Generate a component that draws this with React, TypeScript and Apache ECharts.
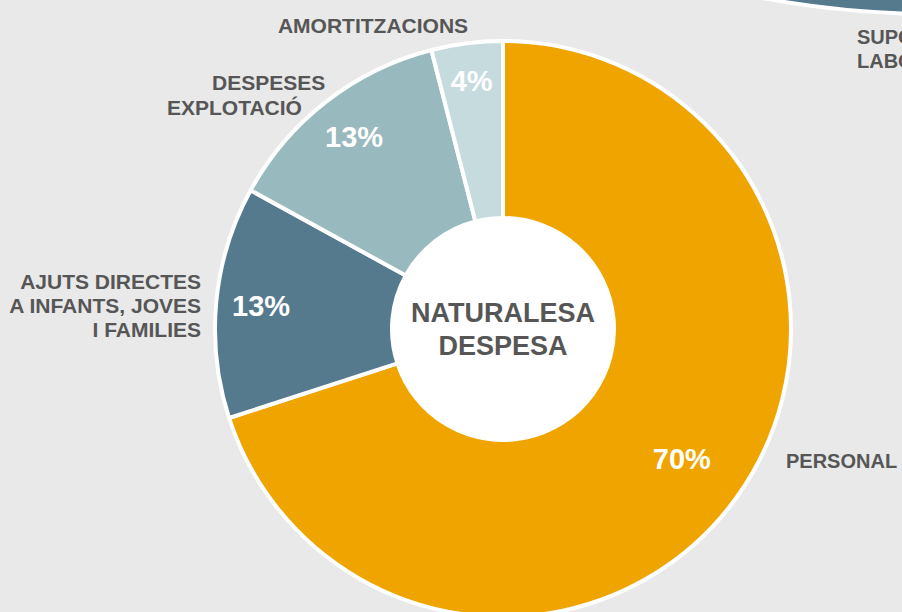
import React, { useEffect, useRef } from "react";
import * as echarts from "echarts";

const categories = ["PERSONAL", "AJUTS DIRECTES", "DESPESES EXPLOTACIÓ", "AMORTITZACIONS"];
const values = [70, 13, 13, 4];
const percentLabels = ["70%", "13%", "13%", "4%"];
const sliceColors = ["#efa400", "#557a8d", "#98babe", "#c6dbde"];
const centerTitle = ["NATURALESA", "DESPESA"];
const personalLines = ["PERSONAL"];
const ajutsLines = ["AJUTS DIRECTES", "A INFANTS, JOVES", "I FAMILIES"];
const despesesLines = ["DESPESES", "EXPLOTACIÓ"];
const amortLines = ["AMORTITZACIONS"];
const otherChartLines = ["SUPORT", "LABORAL"];
const otherChartValues = [1];

const FONT = "'Liberation Sans', Arial, sans-serif";
const TEXT_COLOR = "#565656";

export default function App() {
  const ref = useRef<HTMLDivElement>(null);
  useEffect(() => {
    if (!ref.current) return;
    const chart = echarts.init(ref.current, undefined, { renderer: "svg" });
    const labelStyle = (x: number, y: number, lines: string[], align: string, size = 21) => ({
      type: "text",
      x,
      y,
      silent: true,
      style: {
        text: lines.join("\n"),
        fill: TEXT_COLOR,
        font: `bold ${size}px ${FONT}`,
        align,
        verticalAlign: "middle",
        lineHeight: 24,
      },
    });
    // overlay pies carrying the percentage labels; each ring shows a subset
    const labelRing = (radius: number[], shown: number[]) => ({
      type: "pie",
      silent: true,
      center: [503, 329],
      radius,
      startAngle: 90,
      clockwise: true,
      labelLine: { show: false },
      itemStyle: { color: "rgba(0,0,0,0)", borderWidth: 0 },
      label: {
        show: true,
        position: "inside",
        formatter: (p: any) => percentLabels[p.dataIndex],
        color: "#ffffff",
        fontSize: 29,
        fontWeight: "bold",
        fontFamily: FONT,
      },
      data: values.map((v, i) => ({
        value: v,
        name: categories[i],
        label: { show: shown.includes(i) },
      })),
    });
    chart.setOption({
      animation: false,
      backgroundColor: "#e9e9e9",
      series: [
        {
          type: "pie",
          silent: true,
          center: [935, -928],
          radius: [0, 942],
          startAngle: 90,
          label: { show: false },
          labelLine: { show: false },
          itemStyle: { color: "#557a8d", borderColor: "#ffffff", borderWidth: 4 },
          data: otherChartValues.map((v) => ({ value: v })),
        },
        {
          type: "pie",
          silent: true,
          center: [503, 329],
          radius: [111, 288],
          startAngle: 90,
          clockwise: true,
          label: { show: false },
          labelLine: { show: false },
          itemStyle: { borderColor: "#ffffff", borderWidth: 4 },
          data: values.map((v, i) => ({
            value: v,
            name: categories[i],
            itemStyle: { color: sliceColors[i] },
          })),
        },
        labelRing([168, 268], [0]),
        labelRing([190, 290], [1, 2]),
        labelRing([197, 297], [3]),
        {
          type: "pie",
          silent: true,
          center: [503, 329],
          radius: [0, 111],
          labelLine: { show: false },
          itemStyle: { color: "#ffffff" },
          label: {
            show: true,
            position: "center",
            formatter: centerTitle.join("\n"),
            color: TEXT_COLOR,
            fontSize: 27,
            fontWeight: "bold",
            fontFamily: FONT,
            lineHeight: 33,
          },
          data: [{ value: 1, name: "center" }],
        },
      ],
      graphic: [
        labelStyle(786, 461, personalLines, "left", 20),
        labelStyle(201, 305, ajutsLines, "right"),
        labelStyle(212, 82, [despesesLines[0]], "left"),
        labelStyle(167, 107, [despesesLines[1]], "left"),
        labelStyle(373, 25, amortLines, "center"),
        labelStyle(857, 49, otherChartLines, "left", 20),
      ],
    });
    return () => chart.dispose();
  }, []);
  return (
    <div
      ref={ref}
      style={{ position: "fixed", left: 0, top: 0, width: 902, height: 612, overflow: "hidden" }}
    />
  );
}
